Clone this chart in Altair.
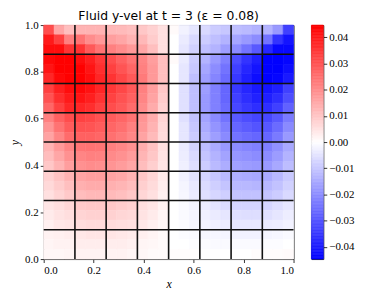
import altair as alt
import pandas as pd
import numpy as np

VMAX = 0.0446  # colour limit (symmetric), also the unit of vel_rows

# cell edges of the sampled 24x24 field on [0,1]^2
x_edges = [i / 24 for i in range(25)]
y_edges = [i / 24 for i in range(25)]

# fluid y-velocity as a fraction of VMAX, rows from top (y~0.98) to bottom (y~0.02)
vel_rows = [
    [0.7, 0.35, 0.25, 0.3, 0.3, 0.3, 0.28, 0.27, 0.25, 0.22, 0.18, 0.12, 0.02, -0.05, -0.1, -0.15, -0.2, -0.22, -0.25, -0.27, -0.3, -0.3, -0.4, -0.75],
    [0.9, 0.75, 0.5, 0.55, 0.45, 0.4, 0.38, 0.35, 0.3, 0.28, 0.2, 0.12, 0.0, -0.08, -0.15, -0.2, -0.25, -0.3, -0.35, -0.4, -0.45, -0.55, -0.8, -0.92],
    [0.95, 0.95, 0.8, 0.8, 0.65, 0.55, 0.5, 0.45, 0.4, 0.35, 0.25, 0.12, 0.0, -0.1, -0.18, -0.25, -0.3, -0.38, -0.45, -0.55, -0.65, -0.85, -0.97, -0.97],
    [0.97, 1.0, 1.0, 0.95, 0.88, 0.78, 0.7, 0.62, 0.55, 0.48, 0.38, 0.25, 0.02, -0.08, -0.2, -0.3, -0.4, -0.5, -0.7, -0.8, -0.88, -1.0, -1.0, -0.98],
    [0.92, 1.0, 1.0, 1.0, 0.92, 0.82, 0.75, 0.67, 0.6, 0.5, 0.4, 0.25, 0.0, -0.1, -0.22, -0.35, -0.45, -0.55, -0.75, -0.85, -0.92, -1.0, -1.0, -0.95],
    [0.85, 0.97, 1.0, 1.0, 0.95, 0.85, 0.8, 0.72, 0.65, 0.52, 0.4, 0.25, 0.0, -0.1, -0.25, -0.38, -0.48, -0.58, -0.78, -0.88, -0.95, -1.0, -0.98, -0.9],
    [0.75, 0.88, 0.95, 0.97, 0.93, 0.85, 0.78, 0.72, 0.65, 0.5, 0.38, 0.22, 0.0, -0.12, -0.25, -0.38, -0.5, -0.6, -0.78, -0.85, -0.9, -0.92, -0.88, -0.75],
    [0.68, 0.82, 0.9, 0.92, 0.88, 0.8, 0.74, 0.68, 0.62, 0.48, 0.36, 0.2, 0.0, -0.12, -0.25, -0.4, -0.5, -0.6, -0.75, -0.82, -0.87, -0.88, -0.82, -0.7],
    [0.6, 0.75, 0.85, 0.85, 0.82, 0.75, 0.7, 0.65, 0.58, 0.45, 0.33, 0.18, 0.0, -0.12, -0.25, -0.4, -0.5, -0.58, -0.72, -0.78, -0.82, -0.82, -0.75, -0.62],
    [0.5, 0.62, 0.7, 0.74, 0.72, 0.68, 0.64, 0.6, 0.55, 0.42, 0.32, 0.17, 0.0, -0.12, -0.24, -0.36, -0.46, -0.55, -0.65, -0.7, -0.73, -0.72, -0.65, -0.52],
    [0.42, 0.55, 0.64, 0.68, 0.67, 0.64, 0.6, 0.56, 0.5, 0.4, 0.3, 0.15, 0.0, -0.1, -0.22, -0.33, -0.42, -0.5, -0.6, -0.64, -0.67, -0.66, -0.58, -0.46],
    [0.36, 0.48, 0.58, 0.62, 0.62, 0.6, 0.56, 0.52, 0.47, 0.36, 0.27, 0.14, 0.0, -0.1, -0.2, -0.3, -0.38, -0.46, -0.55, -0.58, -0.6, -0.6, -0.52, -0.4],
    [0.3, 0.4, 0.48, 0.54, 0.55, 0.54, 0.5, 0.47, 0.43, 0.32, 0.24, 0.12, 0.0, -0.08, -0.17, -0.26, -0.33, -0.4, -0.45, -0.48, -0.5, -0.5, -0.43, -0.34],
    [0.26, 0.35, 0.43, 0.48, 0.5, 0.49, 0.46, 0.43, 0.39, 0.29, 0.22, 0.11, 0.0, -0.07, -0.15, -0.23, -0.3, -0.36, -0.41, -0.43, -0.45, -0.45, -0.39, -0.3],
    [0.22, 0.3, 0.38, 0.43, 0.45, 0.44, 0.42, 0.39, 0.35, 0.26, 0.19, 0.1, 0.0, -0.06, -0.13, -0.2, -0.27, -0.32, -0.37, -0.39, -0.4, -0.4, -0.34, -0.26],
    [0.18, 0.24, 0.3, 0.36, 0.38, 0.38, 0.36, 0.34, 0.3, 0.22, 0.16, 0.08, 0.0, -0.05, -0.11, -0.17, -0.22, -0.27, -0.31, -0.33, -0.34, -0.33, -0.28, -0.21],
    [0.15, 0.2, 0.25, 0.31, 0.33, 0.33, 0.31, 0.29, 0.26, 0.19, 0.14, 0.07, 0.0, -0.04, -0.09, -0.14, -0.19, -0.23, -0.27, -0.28, -0.29, -0.28, -0.24, -0.18],
    [0.12, 0.17, 0.21, 0.26, 0.28, 0.28, 0.27, 0.25, 0.22, 0.16, 0.12, 0.06, 0.0, -0.03, -0.08, -0.12, -0.16, -0.19, -0.23, -0.24, -0.24, -0.23, -0.2, -0.15],
    [0.1, 0.13, 0.16, 0.21, 0.22, 0.22, 0.22, 0.2, 0.18, 0.13, 0.1, 0.05, 0.0, -0.02, -0.05, -0.08, -0.11, -0.14, -0.16, -0.17, -0.17, -0.16, -0.13, -0.1],
    [0.08, 0.11, 0.13, 0.17, 0.18, 0.18, 0.18, 0.16, 0.15, 0.11, 0.08, 0.04, 0.0, -0.02, -0.04, -0.06, -0.08, -0.1, -0.12, -0.13, -0.13, -0.12, -0.1, -0.07],
    [0.06, 0.09, 0.1, 0.13, 0.14, 0.14, 0.14, 0.13, 0.12, 0.09, 0.06, 0.03, 0.0, -0.01, -0.03, -0.04, -0.06, -0.07, -0.09, -0.09, -0.09, -0.08, -0.07, -0.05],
    [0.05, 0.06, 0.07, 0.09, 0.1, 0.1, 0.1, 0.09, 0.08, 0.06, 0.04, 0.02, 0.0, -0.01, -0.02, -0.03, -0.03, -0.04, -0.05, -0.05, -0.05, -0.04, -0.03, -0.02],
    [0.04, 0.05, 0.05, 0.07, 0.07, 0.07, 0.07, 0.07, 0.06, 0.04, 0.03, 0.02, 0.0, 0.0, -0.01, -0.01, -0.02, -0.02, -0.02, -0.02, -0.02, -0.01, -0.01, 0.0],
    [0.03, 0.03, 0.04, 0.05, 0.05, 0.05, 0.05, 0.05, 0.04, 0.03, 0.02, 0.02, 0.01, 0.01, 0.01, 0.0, 0.0, 0.0, 0.0, 0.0, 0.01, 0.01, 0.01, 0.02],
]

grid_lines = [0.125, 0.25, 0.375, 0.5, 0.625, 0.75, 0.875]
axis_ticks = [0.0, 0.2, 0.4, 0.6, 0.8, 1.0]
cbar_ticks = [-0.04, -0.03, -0.02, -0.01, 0.0, 0.01, 0.02, 0.03, 0.04]

records = []
n = len(vel_rows)
for r, row in enumerate(vel_rows):
    y0 = y_edges[n - 1 - r]
    y1 = y_edges[n - r]
    for c, v in enumerate(row):
        records.append({"x0": x_edges[c], "x1": x_edges[c + 1], "y0": y0, "y1": y1, "v": v * VMAX})
field = pd.DataFrame(records)

cb_edges = np.linspace(-VMAX, VMAX, 161)
cbar = pd.DataFrame({"lo": cb_edges[:-1], "hi": cb_edges[1:], "v": (cb_edges[:-1] + cb_edges[1:]) / 2})

cscale = alt.Scale(domain=[-VMAX, 0, VMAX], range=["#0000ff", "#ffffff", "#ff0000"], interpolate="rgb")

SERIF = "Liberation Serif, DejaVu Serif, serif"
xs = alt.Scale(domain=[0, 1], nice=False, zero=False)
ys = alt.Scale(domain=[0, 1], nice=False, zero=False)

heat = alt.Chart(field).mark_rect(strokeWidth=0.6).encode(
    x=alt.X("x0:Q", scale=xs,
            axis=alt.Axis(values=axis_ticks, format=".1f", title="x", titleFontStyle="italic",
                          titleFontWeight="normal", titlePadding=3)),
    x2="x1:Q",
    y=alt.Y("y0:Q", scale=ys,
            axis=alt.Axis(values=axis_ticks, format=".1f", title="y", titleFontStyle="italic",
                          titleFontWeight="normal", titlePadding=3)),
    y2="y1:Q",
    color=alt.Color("v:Q", scale=cscale, legend=None),
    stroke=alt.Stroke("v:Q", scale=cscale, legend=None),
)

vlines = alt.Chart(pd.DataFrame({"p": grid_lines})).mark_rule(color="#111111", strokeWidth=1.6).encode(
    x=alt.X("p:Q", scale=xs)
)
hlines = alt.Chart(pd.DataFrame({"p": grid_lines})).mark_rule(color="#111111", strokeWidth=1.6).encode(
    y=alt.Y("p:Q", scale=ys)
)

main = alt.layer(heat, vlines, hlines).properties(
    width=252, height=236,
    title=alt.TitleParams("Fluid y-vel at t = 3 (ε = 0.08)", font="DejaVu Sans", fontSize=12.5,
                          fontWeight="normal", anchor="middle", offset=-3, color="black"),
)

cb = alt.Chart(cbar).mark_rect(strokeWidth=0.6).encode(
    x=alt.value(0), x2=alt.value(12),
    y=alt.Y("lo:Q", scale=alt.Scale(domain=[-VMAX, VMAX], nice=False, zero=False),
            axis=alt.Axis(orient="right", values=cbar_ticks, format=".2f", title=None,
                          labelExpr="replace(datum.label, '-', '\u2212')")),
    y2="hi:Q",
    color=alt.Color("v:Q", scale=cscale, legend=None),
    stroke=alt.Stroke("v:Q", scale=cscale, legend=None),
).properties(width=12, height=236)

chart = alt.hconcat(main, cb, spacing=15).resolve_scale(color="independent", stroke="independent").configure(
    padding={"left": 0, "top": 0, "right": 2, "bottom": 0},
).configure_view(
    stroke="#222222", strokeWidth=1
).configure_axis(
    grid=False, domain=False, labelFont=SERIF, labelFontSize=11, labelColor="black",
    titleFont=SERIF, titleFontSize=12, titleColor="black",
    tickColor="black", tickSize=3.5, tickWidth=0.8, labelPadding=2,
)

chart.save("out.html", embed_options={"renderer": "svg", "actions": False})
